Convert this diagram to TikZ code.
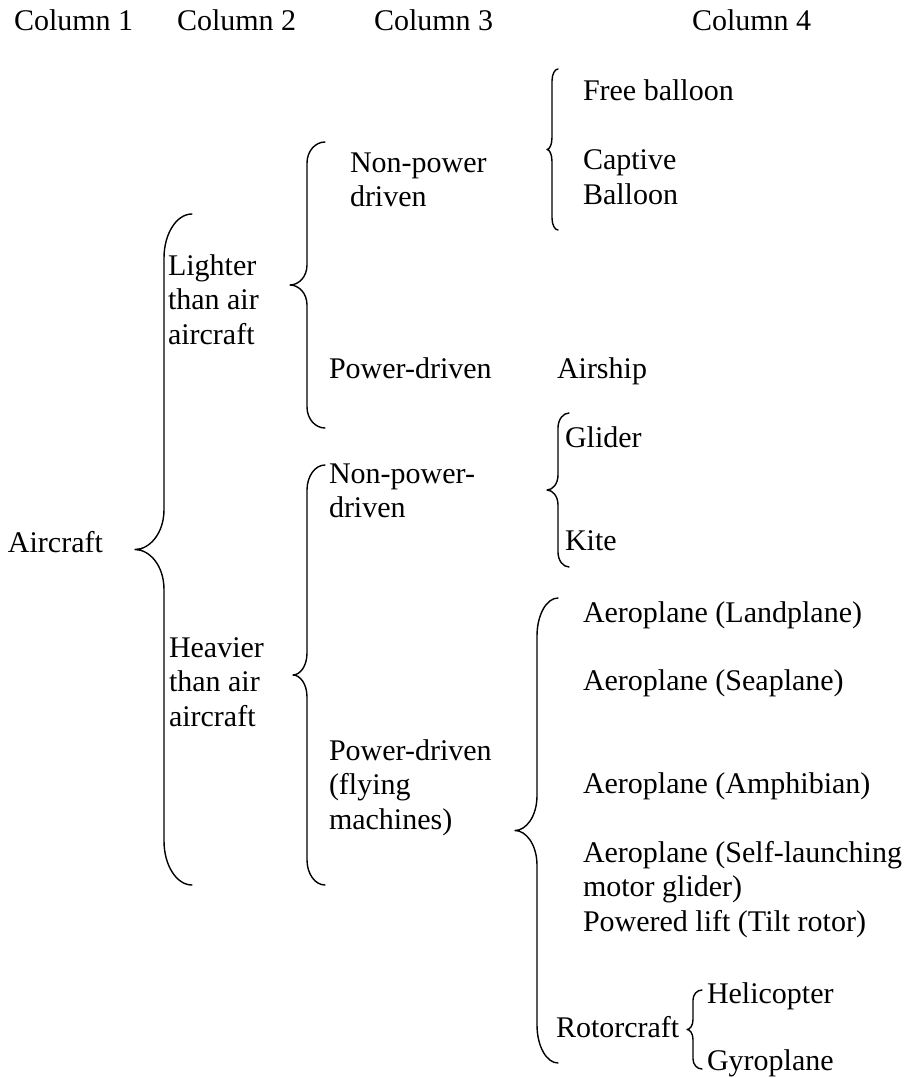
\documentclass[tikz,border=0pt]{standalone}
\usepackage{fontspec}
\setmainfont{Liberation Serif}
\tikzset{
  lbl/.style={anchor=base west, inner sep=0pt, outer sep=0pt, font=\fontsize{30}{34.5}\selectfont},
  bracestyle/.style={line width=1.4pt, line cap=round, line join=round}
}
% wbrace{xe}{xv}{xt}{ytop}{ybot}{endcurl}{tipcurl}
\newcommand\wbrace[7]{%
  \pgfmathsetmacro\bym{(#4+#5)/2}%
  \draw[bracestyle] (#1,#4)
    .. controls ({#1-0.552*(#1-#2)},#4) and (#2,{#4+0.448*#6}) .. (#2,{#4+#6})
    -- (#2,{\bym-#7})
    .. controls (#2,{\bym-0.4*#7}) and ({#3+0.5*(#2-#3)},\bym) .. (#3,\bym)
    .. controls ({#3+0.5*(#2-#3)},\bym) and (#2,{\bym+0.4*#7}) .. (#2,{\bym+#7})
    -- (#2,{#5-#6})
    .. controls (#2,{#5-0.448*#6}) and ({#1-0.552*(#1-#2)},#5) .. (#1,#5);%
}
\begin{document}
\begin{tikzpicture}[x=1pt,y=-1pt]
\useasboundingbox (0,0) rectangle (907,1078);
% headers
\node[lbl] (c1) at (14,31) {Column 1};
\node[lbl] (c2) at (177,31) {Column 2};
\node[lbl] (c3) at (374,31) {Column 3};
\node[lbl] (c4) at (692,31) {Column 4};
% column 1
\node[lbl] (aircraft) at (8,552) {Aircraft};
% column 2
\node[lbl] (lighter) at (168,275) {\vtop{\hbox{Lighter}\hbox{than air}\hbox{aircraft}}};
\node[lbl] (heavier) at (169,657) {\vtop{\hbox{Heavier}\hbox{than air}\hbox{aircraft}}};
% column 3
\node[lbl] (lnp) at (350,172) {\vtop{\hbox{Non-power}\hbox{driven}}};
\node[lbl] (lpd) at (329,378) {Power-driven};
\node[lbl] (hnp) at (329,483) {\vtop{\hbox{Non-power-}\hbox{driven}}};
\node[lbl] (hpd) at (329,760) {\vtop{\hbox{Power-driven}\hbox{(flying}\hbox{machines)}}};
% column 4
\node[lbl] (free) at (583,101) {Free balloon};
\node[lbl] (captive) at (583,170) {\vtop{\hbox{Captive}\hbox{Balloon}}};
\node[lbl] (airship) at (557,378) {Airship};
\node[lbl] (glider) at (565,447) {Glider};
\node[lbl] (kite) at (565,550) {Kite};
\node[lbl] (land) at (583,622) {Aeroplane (Landplane)};
\node[lbl] (sea) at (583,690) {Aeroplane (Seaplane)};
\node[lbl] (amph) at (583,793) {Aeroplane (Amphibian)};
\node[lbl] (self) at (583,862) {\vtop{\hbox{Aeroplane (Self-launching}\hbox{motor glider)}\hbox{Powered lift (Tilt rotor)}}};
\node[lbl] (rotor) at (556,1037) {Rotorcraft};
\node[lbl] (heli) at (707,1003) {Helicopter};
\node[lbl] (gyro) at (707,1070) {Gyroplane};
% braces
\wbrace{192}{164}{135}{214}{885}{44}{40}
\wbrace{325}{307}{290}{142}{428}{21}{20}
\wbrace{325}{307}{293}{465}{885}{25}{22}
\wbrace{558}{552}{547}{69}{230}{12}{12}
\wbrace{569}{558}{547}{413}{567}{15}{15}
\wbrace{558}{537}{515}{598}{1063}{38}{35}
\wbrace{702}{693}{687}{990}{1069}{10}{10}
\end{tikzpicture}
\end{document}
